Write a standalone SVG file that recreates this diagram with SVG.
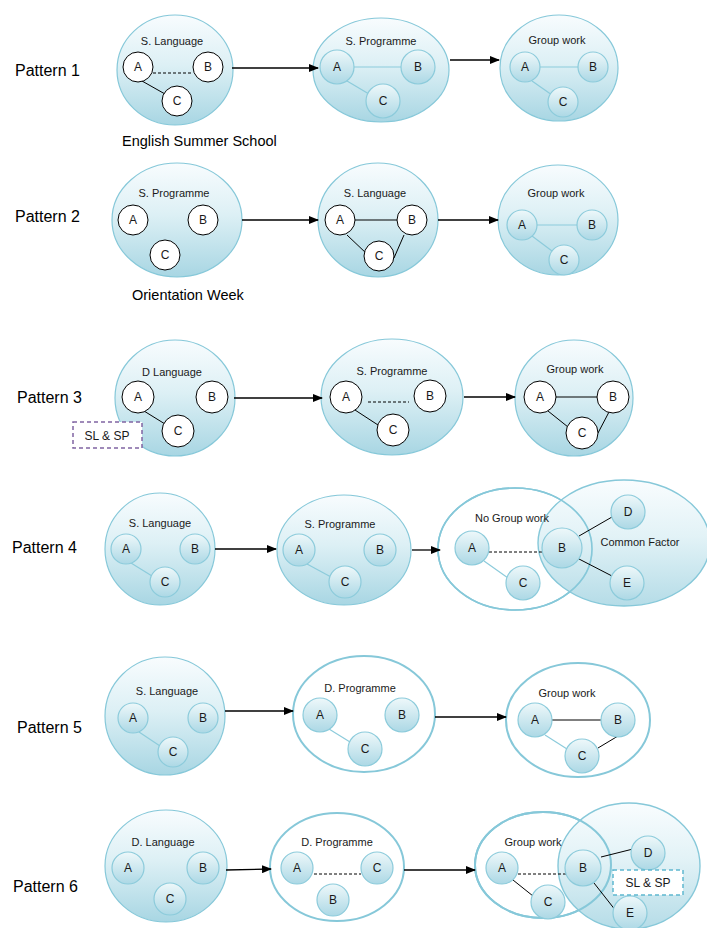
<svg xmlns="http://www.w3.org/2000/svg" width="707" height="928" viewBox="0 0 707 928">
<defs>
<linearGradient id="gBig" x1="0" y1="0" x2="0" y2="1">
<stop offset="0" stop-color="#f8fcfe"/>
<stop offset="0.45" stop-color="#ddf0f5"/>
<stop offset="1" stop-color="#a8d6e3"/>
</linearGradient>
<linearGradient id="gSmall" x1="0" y1="0" x2="0" y2="1">
<stop offset="0" stop-color="#eef8fa"/>
<stop offset="1" stop-color="#acd8e5"/>
</linearGradient>
<marker id="arr" markerWidth="10" markerHeight="8" refX="9" refY="4" orient="auto" markerUnits="userSpaceOnUse">
<path d="M0,0 L10,4 L0,8 z" fill="#000"/>
</marker>
<style>
.pl{font-family:"Liberation Sans",Arial,sans-serif;font-size:16px;fill:#000}
.cap{font-family:"Liberation Sans",Arial,sans-serif;font-size:14.5px;fill:#000}
.t{font-family:"Liberation Sans",Arial,sans-serif;font-size:11px;fill:#1a1a1a;text-anchor:middle}
.n{font-family:"Liberation Sans",Arial,sans-serif;font-size:12px;fill:#1a1a1a;text-anchor:middle}
.big{fill:url(#gBig);stroke:#86c8d9;stroke-width:1.2}
.wht{fill:#fff;stroke:#86c8d9;stroke-width:2}
.wn{fill:#fff;stroke:#000;stroke-width:1}
.ln{fill:url(#gSmall);stroke:#8ccbdb;stroke-width:1.2}
.arrow{stroke:#000;stroke-width:1.3;fill:none;marker-end:url(#arr)}
.eb{stroke:#000;stroke-width:1;fill:none}
.ed{stroke:#000;stroke-width:1;fill:none;stroke-dasharray:3,2}
.el{stroke:#8ccbdb;stroke-width:1.2;fill:none}
.box{fill:#fff;stroke-width:1.5;stroke-dasharray:4,3}
</style>
</defs>
<rect width="707" height="928" fill="#fff"/>

<g id="labels">
<text class="pl" x="15" y="76">Pattern 1</text>
<text class="pl" x="15" y="222">Pattern 2</text>
<text class="pl" x="17" y="403">Pattern 3</text>
<text class="pl" x="12" y="553">Pattern 4</text>
<text class="pl" x="17" y="733">Pattern 5</text>
<text class="pl" x="13" y="892">Pattern 6</text>
<text class="cap" x="122" y="146">English Summer School</text>
<text class="cap" x="132" y="300">Orientation Week</text>
</g>

<g id="containers">
<g id="p1-language"><ellipse class="big" cx="175" cy="70" rx="58" ry="55"/><text class="t" x="172" y="45">S. Language</text></g>
<g id="p1-programme"><ellipse class="big" cx="381" cy="70" rx="68" ry="52"/><text class="t" x="381" y="45">S. Programme</text></g>
<g id="p1-group"><ellipse class="big" cx="559" cy="68" rx="59" ry="53"/><text class="t" x="557" y="44">Group work</text></g>

<g id="p2-programme"><ellipse class="big" cx="177" cy="220" rx="65" ry="57"/><text class="t" x="174" y="197">S. Programme</text></g>
<g id="p2-language"><ellipse class="big" cx="378" cy="220" rx="60" ry="57"/><text class="t" x="375" y="197">S. Language</text></g>
<g id="p2-group"><ellipse class="big" cx="558" cy="220" rx="60" ry="55"/><text class="t" x="556" y="197">Group work</text></g>

<g id="p3-language"><ellipse class="big" cx="175" cy="398" rx="60" ry="58"/><text class="t" x="172" y="376">D Language</text></g>
<g id="p3-programme"><ellipse class="big" cx="392" cy="397" rx="71" ry="58"/><text class="t" x="392" y="375">S. Programme</text></g>
<g id="p3-group"><ellipse class="big" cx="574" cy="398" rx="59" ry="58"/><text class="t" x="575" y="373">Group work</text></g>

<g id="p4-language"><ellipse class="big" cx="160" cy="549" rx="55" ry="56"/><text class="t" x="160" y="527">S. Language</text></g>
<g id="p4-programme"><ellipse class="big" cx="344" cy="550" rx="67" ry="55"/><text class="t" x="340" y="528">S. Programme</text></g>
<g id="p4-nogroup"><ellipse cx="515" cy="549" rx="77" ry="61" fill="#fff" stroke="#86c8d9" stroke-width="1.6"/></g>
<g id="p4-common"><ellipse cx="624" cy="543" rx="86" ry="63" fill="url(#gBig)" fill-opacity="0.85" stroke="#86c8d9" stroke-width="1.4"/>
<ellipse cx="515" cy="549" rx="77" ry="61" fill="none" stroke="#86c8d9" stroke-width="1.6"/>
<text class="t" x="512" y="522">No Group work</text>
<text class="t" x="640" y="546">Common Factor</text></g>

<g id="p5-language"><ellipse class="big" cx="165" cy="716" rx="60" ry="59"/><text class="t" x="167" y="695">S. Language</text></g>
<g id="p5-programme"><ellipse class="wht" cx="364" cy="714" rx="71" ry="58"/><text class="t" x="360" y="692">D. Programme</text></g>
<g id="p5-group"><ellipse class="wht" cx="578" cy="720" rx="72" ry="57"/><text class="t" x="567" y="697">Group work</text></g>

<g id="p6-language"><ellipse class="big" cx="166" cy="866" rx="61" ry="56"/><text class="t" x="163" y="846">D. Language</text></g>
<g id="p6-programme"><ellipse class="wht" cx="337" cy="867" rx="67" ry="54"/><text class="t" x="337" y="846">D. Programme</text></g>
<g id="p6-group"><ellipse cx="543" cy="865" rx="68" ry="53" fill="#fff" stroke="#86c8d9" stroke-width="2"/></g>
<g id="p6-common"><ellipse cx="629" cy="866" rx="71" ry="63" fill="url(#gBig)" fill-opacity="0.85" stroke="#86c8d9" stroke-width="1.4"/>
<ellipse cx="543" cy="865" rx="68" ry="53" fill="none" stroke="#86c8d9" stroke-width="2"/>
<text class="t" x="533" y="846">Group work</text></g>
</g>

<g id="connectors">
<line class="arrow" x1="232" y1="68" x2="318" y2="68"/>
<line class="arrow" x1="450" y1="60" x2="499" y2="60"/>
<line class="arrow" x1="242" y1="220" x2="318" y2="220"/>
<line class="arrow" x1="438" y1="220" x2="498" y2="220"/>
<line class="arrow" x1="234" y1="398" x2="322" y2="398"/>
<line class="arrow" x1="464" y1="397" x2="515" y2="397"/>
<line class="arrow" x1="215" y1="549" x2="276" y2="549"/>
<line class="arrow" x1="412" y1="550" x2="440" y2="550"/>
<line class="arrow" x1="225" y1="711" x2="293" y2="711"/>
<line class="arrow" x1="435" y1="717" x2="506" y2="717"/>
<line class="arrow" x1="226" y1="870" x2="271" y2="869"/>
<line class="arrow" x1="404" y1="870" x2="475" y2="870"/>

<line class="ed" x1="153" y1="73" x2="193" y2="73"/>
<line class="eb" x1="142" y1="81" x2="165" y2="94"/>
<line class="el" x1="354" y1="67" x2="401" y2="67"/>
<line class="el" x1="347" y1="81" x2="369" y2="94"/>
<line class="el" x1="540" y1="67" x2="578" y2="67"/>
<line class="el" x1="532" y1="81" x2="552" y2="95"/>

<line class="eb" x1="355" y1="220" x2="397" y2="220"/>
<line class="eb" x1="347" y1="235" x2="367" y2="254"/>
<line class="eb" x1="404" y1="235" x2="394" y2="258"/>
<line class="el" x1="537" y1="225" x2="577" y2="225"/>
<line class="el" x1="532" y1="236" x2="552" y2="251"/>

<line class="eb" x1="144" y1="411" x2="165" y2="424"/>
<line class="ed" x1="368" y1="402" x2="409" y2="402"/>
<line class="eb" x1="355" y1="410" x2="378" y2="425"/>
<line class="eb" x1="556" y1="397" x2="597" y2="397"/>
<line class="eb" x1="548" y1="411" x2="568" y2="427"/>
<line class="eb" x1="609" y1="412" x2="598" y2="433"/>

<line class="el" x1="131" y1="563" x2="152" y2="576"/>
<line class="el" x1="307" y1="564" x2="331" y2="577"/>
<line class="ed" x1="489" y1="552" x2="543" y2="552"/>
<line class="el" x1="484" y1="561" x2="508" y2="578"/>
<line class="eb" x1="579" y1="536" x2="612" y2="517"/>
<line class="eb" x1="579" y1="559" x2="612" y2="576"/>

<line class="el" x1="139" y1="732" x2="160" y2="746"/>
<line class="el" x1="329" y1="729" x2="350" y2="742"/>
<line class="eb" x1="552" y1="720" x2="601" y2="720"/>
<line class="el" x1="545" y1="735" x2="567" y2="749"/>
<line class="eb" x1="598" y1="748" x2="618" y2="736"/>

<line class="ed" x1="314" y1="874" x2="361" y2="874"/>
<line class="ed" x1="518" y1="874" x2="566" y2="874"/>
<line class="eb" x1="513" y1="880" x2="533" y2="896"/>
<line class="eb" x1="601" y1="857" x2="633" y2="849"/>
<line class="eb" x1="594" y1="883" x2="616" y2="911"/>
</g>

<g id="nodes">
<g id="p1-l-A"><circle class="wn" cx="138" cy="67" r="15"/><text class="n" x="138" y="71">A</text></g>
<g id="p1-l-B"><circle class="wn" cx="208" cy="67" r="15"/><text class="n" x="208" y="71">B</text></g>
<g id="p1-l-C"><circle class="wn" cx="177" cy="101" r="15"/><text class="n" x="177" y="105">C</text></g>
<g id="p1-p-A"><circle class="ln" cx="337" cy="67" r="17"/><text class="n" x="337" y="71">A</text></g>
<g id="p1-p-B"><circle class="ln" cx="418" cy="67" r="17"/><text class="n" x="418" y="71">B</text></g>
<g id="p1-p-C"><circle class="ln" cx="383" cy="101" r="17"/><text class="n" x="383" y="105">C</text></g>
<g id="p1-g-A"><circle class="ln" cx="525" cy="67" r="15"/><text class="n" x="525" y="71">A</text></g>
<g id="p1-g-B"><circle class="ln" cx="593" cy="67" r="15"/><text class="n" x="593" y="71">B</text></g>
<g id="p1-g-C"><circle class="ln" cx="563" cy="102" r="15"/><text class="n" x="563" y="106">C</text></g>

<g id="p2-p-A"><circle class="wn" cx="133" cy="220" r="15"/><text class="n" x="133" y="224">A</text></g>
<g id="p2-p-B"><circle class="wn" cx="203" cy="220" r="15"/><text class="n" x="203" y="224">B</text></g>
<g id="p2-p-C"><circle class="wn" cx="165" cy="255" r="15"/><text class="n" x="165" y="259">C</text></g>
<g id="p2-l-A"><circle class="wn" cx="340" cy="220" r="15"/><text class="n" x="340" y="224">A</text></g>
<g id="p2-l-B"><circle class="wn" cx="412" cy="220" r="15"/><text class="n" x="412" y="224">B</text></g>
<g id="p2-l-C"><circle class="wn" cx="379" cy="256" r="15"/><text class="n" x="379" y="260">C</text></g>
<g id="p2-g-A"><circle class="ln" cx="522" cy="225" r="15"/><text class="n" x="522" y="229">A</text></g>
<g id="p2-g-B"><circle class="ln" cx="592" cy="225" r="15"/><text class="n" x="592" y="229">B</text></g>
<g id="p2-g-C"><circle class="ln" cx="564" cy="260" r="15"/><text class="n" x="564" y="264">C</text></g>

<g id="p3-l-A"><circle class="wn" cx="138" cy="397" r="16"/><text class="n" x="138" y="401">A</text></g>
<g id="p3-l-B"><circle class="wn" cx="212" cy="397" r="16"/><text class="n" x="212" y="401">B</text></g>
<g id="p3-l-C"><circle class="wn" cx="178" cy="431" r="16"/><text class="n" x="178" y="435">C</text></g>
<g id="p3-p-A"><circle class="wn" cx="346" cy="397" r="16"/><text class="n" x="346" y="401">A</text></g>
<g id="p3-p-B"><circle class="wn" cx="430" cy="396" r="16"/><text class="n" x="430" y="400">B</text></g>
<g id="p3-p-C"><circle class="wn" cx="393" cy="430" r="16"/><text class="n" x="393" y="434">C</text></g>
<g id="p3-g-A"><circle class="wn" cx="540" cy="397" r="16"/><text class="n" x="540" y="401">A</text></g>
<g id="p3-g-B"><circle class="wn" cx="613" cy="397" r="16"/><text class="n" x="613" y="401">B</text></g>
<g id="p3-g-C"><circle class="wn" cx="582" cy="433" r="16"/><text class="n" x="582" y="437">C</text></g>
<g id="p3-box"><rect class="box" x="73" y="422" width="69" height="26" stroke="#8064a2"/><text class="n" x="107" y="440">SL &amp; SP</text></g>

<g id="p4-l-A"><circle class="ln" cx="126" cy="549" r="15"/><text class="n" x="126" y="553">A</text></g>
<g id="p4-l-B"><circle class="ln" cx="195" cy="549" r="15"/><text class="n" x="195" y="553">B</text></g>
<g id="p4-l-C"><circle class="ln" cx="165" cy="582" r="15"/><text class="n" x="165" y="586">C</text></g>
<g id="p4-p-A"><circle class="ln" cx="299" cy="550" r="16"/><text class="n" x="299" y="554">A</text></g>
<g id="p4-p-B"><circle class="ln" cx="380" cy="550" r="16"/><text class="n" x="380" y="554">B</text></g>
<g id="p4-p-C"><circle class="ln" cx="345" cy="582" r="16"/><text class="n" x="345" y="586">C</text></g>
<g id="p4-n-A"><circle class="ln" cx="472" cy="548" r="17"/><text class="n" x="472" y="552">A</text></g>
<g id="p4-n-C"><circle class="ln" cx="523" cy="583" r="17"/><text class="n" x="523" y="587">C</text></g>
<g id="p4-n-B"><circle class="ln" cx="562" cy="548" r="20"/><text class="n" x="562" y="552">B</text></g>
<g id="p4-n-D"><circle class="ln" cx="628" cy="512" r="17"/><text class="n" x="628" y="516">D</text></g>
<g id="p4-n-E"><circle class="ln" cx="627" cy="583" r="17"/><text class="n" x="627" y="587">E</text></g>

<g id="p5-l-A"><circle class="ln" cx="133" cy="718" r="15"/><text class="n" x="133" y="722">A</text></g>
<g id="p5-l-B"><circle class="ln" cx="203" cy="718" r="15"/><text class="n" x="203" y="722">B</text></g>
<g id="p5-l-C"><circle class="ln" cx="173" cy="752" r="15"/><text class="n" x="173" y="756">C</text></g>
<g id="p5-p-A"><circle class="ln" cx="320" cy="715" r="17"/><text class="n" x="320" y="719">A</text></g>
<g id="p5-p-B"><circle class="ln" cx="402" cy="715" r="17"/><text class="n" x="402" y="719">B</text></g>
<g id="p5-p-C"><circle class="ln" cx="365" cy="749" r="17"/><text class="n" x="365" y="753">C</text></g>
<g id="p5-g-A"><circle class="ln" cx="535" cy="720" r="17"/><text class="n" x="535" y="724">A</text></g>
<g id="p5-g-B"><circle class="ln" cx="618" cy="720" r="17"/><text class="n" x="618" y="724">B</text></g>
<g id="p5-g-C"><circle class="ln" cx="582" cy="756" r="17"/><text class="n" x="582" y="760">C</text></g>

<g id="p6-l-A"><circle class="ln" cx="128" cy="868" r="16"/><text class="n" x="128" y="872">A</text></g>
<g id="p6-l-B"><circle class="ln" cx="203" cy="868" r="16"/><text class="n" x="203" y="872">B</text></g>
<g id="p6-l-C"><circle class="ln" cx="170" cy="899" r="16"/><text class="n" x="170" y="903">C</text></g>
<g id="p6-p-A"><circle class="ln" cx="297" cy="868" r="16"/><text class="n" x="297" y="872">A</text></g>
<g id="p6-p-C"><circle class="ln" cx="377" cy="868" r="16"/><text class="n" x="377" y="872">C</text></g>
<g id="p6-p-B"><circle class="ln" cx="333" cy="900" r="16"/><text class="n" x="333" y="904">B</text></g>
<g id="p6-g-A"><circle class="ln" cx="502" cy="868" r="16"/><text class="n" x="502" y="872">A</text></g>
<g id="p6-g-C"><circle class="ln" cx="548" cy="902" r="17"/><text class="n" x="548" y="906">C</text></g>
<g id="p6-g-B"><circle class="ln" cx="583" cy="868" r="18"/><text class="n" x="583" y="872">B</text></g>
<g id="p6-g-D"><circle class="ln" cx="648" cy="853" r="17"/><text class="n" x="648" y="857">D</text></g>
<g id="p6-g-E"><circle class="ln" cx="630" cy="913" r="17"/><text class="n" x="630" y="917">E</text></g>
<g id="p6-box"><rect class="box" x="613" y="870" width="70" height="25" stroke="#5fb8cf" stroke-width="2"/><text class="n" x="648" y="887">SL &amp; SP</text></g>
</g>
</svg>
